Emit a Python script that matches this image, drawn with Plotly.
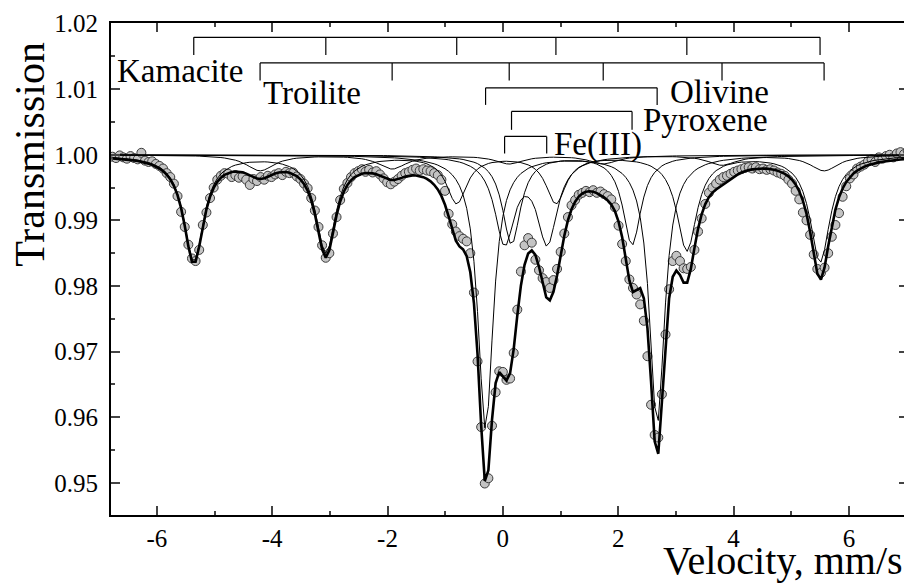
import numpy as np
import plotly.graph_objects as go

# ---------------- data ----------------
# velocity channels (mm/s): first channel, last channel, number of channels
V_MIN, V_MAX, N_CH = -6.77, 7.02, 221

transmission = [
    0.9997, 0.9995, 0.9999, 0.9996, 0.9994, 0.9998, 0.9995, 0.9993, 1.0003, 0.9991,
    0.9989, 0.9990, 0.9986, 0.9983, 0.9979, 0.9972, 0.9966, 0.9956, 0.9937, 0.9913,
    0.9890, 0.9863, 0.9842, 0.9838, 0.9855, 0.9893, 0.9912, 0.9934, 0.9950, 0.9962,
    0.9968, 0.9972, 0.9971, 0.9966, 0.9969, 0.9965, 0.9967, 0.9962, 0.9954, 0.9963,
    0.9960, 0.9966, 0.9962, 0.9968, 0.9966, 0.9970, 0.9972, 0.9969, 0.9974, 0.9972,
    0.9973, 0.9967, 0.9963, 0.9956, 0.9949, 0.9934, 0.9915, 0.9890, 0.9862, 0.9843,
    0.9850, 0.9880, 0.9905, 0.9931, 0.9948, 0.9957, 0.9966, 0.9972, 0.9975, 0.9978,
    0.9974, 0.9977, 0.9973, 0.9975, 0.9970, 0.9964, 0.9958, 0.9955, 0.9959, 0.9963,
    0.9968, 0.9972, 0.9974, 0.9977, 0.9979, 0.9976, 0.9978, 0.9976, 0.9975, 0.9972,
    0.9969, 0.9962, 0.9945, 0.9910, 0.9894, 0.9883, 0.9876, 0.9872, 0.9868, 0.9850,
    0.9790, 0.9685, 0.9585, 0.9499, 0.9507, 0.9587, 0.9638, 0.9670, 0.9669, 0.9657,
    0.9659, 0.9698, 0.9764, 0.9822, 0.9862, 0.9873, 0.9866, 0.9840, 0.9824, 0.9812,
    0.9806, 0.9797, 0.9809, 0.9826, 0.9852, 0.9880, 0.9905, 0.9923, 0.9931, 0.9939,
    0.9942, 0.9945, 0.9943, 0.9946, 0.9942, 0.9944, 0.9940, 0.9937, 0.9932, 0.9920,
    0.9892, 0.9864, 0.9838, 0.9810, 0.9797, 0.9787, 0.9772, 0.9747, 0.9693, 0.9619,
    0.9573, 0.9569, 0.9635, 0.9726, 0.9795, 0.9838, 0.9846, 0.9838, 0.9827, 0.9826,
    0.9829, 0.9855, 0.9883, 0.9903, 0.9925, 0.9942, 0.9950, 0.9956, 0.9962, 0.9966,
    0.9968, 0.9971, 0.9974, 0.9976, 0.9978, 0.9980, 0.9981, 0.9979, 0.9981, 0.9978,
    0.9979, 0.9977, 0.9978, 0.9976, 0.9973, 0.9971, 0.9968, 0.9962, 0.9956, 0.9945,
    0.9932, 0.9912, 0.9900, 0.9878, 0.9848, 0.9826, 0.9820, 0.9828, 0.9850, 0.9875,
    0.9893, 0.9911, 0.9936, 0.9952, 0.9964, 0.9970, 0.9979, 0.9982, 0.9985, 0.9990,
    0.9993, 0.9989, 0.9996, 0.9994, 0.9998, 1.0000, 0.9996, 1.0002, 1.0004, 1.0001,
    1.0006,
]

# fitted sub-spectra: line positions (mm/s), depths, half widths (mm/s)
kam_pos = [-5.36, -3.07, -0.80, 0.92, 3.19, 5.50]
kam_depth = [0.0162, 0.0148, 0.0072, 0.0072, 0.0145, 0.0163]
kam_hw = [0.21, 0.21, 0.21, 0.21, 0.21, 0.21]
tro_pos = [-4.21, -1.92, 0.11, 1.74, 3.80, 5.57]
tro_depth = [0.0024, 0.0021, 0.0013, 0.0013, 0.0015, 0.0024]
tro_hw = [0.30, 0.30, 0.30, 0.30, 0.30, 0.30]
oli_pos = [-0.30, 2.675]
oli_depth = [0.0418, 0.0410]
oli_hw = [0.16, 0.16]
pyr_pos = [0.15, 2.24]
pyr_depth = [0.0136, 0.0137]
pyr_hw = [0.19, 0.19]
fe3_pos = [0.03, 0.77]
fe3_depth = [0.0130, 0.0130]
fe3_hw = [0.21, 0.21]

# stick diagrams: label, line positions, bar level, leg bottom, label position
stick_names = ["Kamacite", "Troilite", "Olivine", "Pyroxene", "Fe(III)"]
stick_pos = [
    [-5.36, -3.07, -0.80, 0.92, 3.19, 5.50],
    [-4.21, -1.92, 0.11, 1.74, 3.80, 5.57],
    [-0.30, 2.675],
    [0.15, 2.24],
    [0.03, 0.76],
]
stick_top = [1.0179, 1.0140, 1.0102, 1.0066, 1.0028]
stick_bottom = [1.0152, 1.0113, 1.0076, 1.0038, 1.0002]
label_x = [-6.72, -4.19, 2.86, 2.39, 0.86]
label_y = [1.0128, 1.0094, 1.0095, 1.0053, 1.0015]

x_ticks = [-6, -4, -2, 0, 2, 4, 6]
x_tick_labels = ["-6", "-4", "-2", "0", "2", "4", "6"]
y_ticks = [0.95, 0.96, 0.97, 0.98, 0.99, 1.00, 1.01, 1.02]

# ---------------- figure ----------------
v = np.linspace(V_MIN, V_MAX, N_CH)


def subspectrum(pos, depth, hw):
    s = np.zeros_like(v)
    for p, d, w in zip(pos, depth, hw):
        s += d / (1 + ((v - p) / w) ** 2)
    return s


comps = [subspectrum(kam_pos, kam_depth, kam_hw), subspectrum(tro_pos, tro_depth, tro_hw),
         subspectrum(oli_pos, oli_depth, oli_hw), subspectrum(pyr_pos, pyr_depth, pyr_hw),
         subspectrum(fe3_pos, fe3_depth, fe3_hw)]
total = 1 - sum(comps)

FONT = "Liberation Serif"
fig = go.Figure()
fig.add_trace(go.Scatter(x=v, y=transmission, mode="markers", hoverinfo="skip",
                         marker=dict(size=9, color="#c4c4c4",
                                     line=dict(color="#3c3c3c", width=1))))
for c in comps:
    fig.add_trace(go.Scatter(x=v, y=1 - c, mode="lines", line=dict(color="black", width=1)))
fig.add_trace(go.Scatter(x=v, y=total, mode="lines", line=dict(color="black", width=2.6)))

for name, pos, top, bot, lx, ly in zip(stick_names, stick_pos, stick_top, stick_bottom,
                                       label_x, label_y):
    xs, ys = [pos[0], pos[-1], None], [top, top, None]
    for p in pos:
        xs += [p, p, None]
        ys += [top, bot, None]
    fig.add_trace(go.Scatter(x=xs, y=ys, mode="lines", line=dict(color="black", width=1.2)))
    fig.add_annotation(x=lx, y=ly, text=name, showarrow=False, xanchor="left", yanchor="middle",
                       font=dict(family=FONT, size=33, color="black"))

fig.add_annotation(xref="paper", yref="paper", x=-0.101, y=0.733, text="Transmission",
                   textangle=-90, showarrow=False, xanchor="center", yanchor="middle",
                   font=dict(family=FONT, size=42, color="black"))
fig.add_annotation(xref="paper", yref="paper", x=0.996, y=-0.142, text="Velocity, mm/s",
                   showarrow=False, xanchor="right", yanchor="bottom",
                   font=dict(family=FONT, size=40, color="black"))

# page has an 8 px body margin, so the figure is 904 x 575
fig.update_layout(width=904, height=575, margin=dict(l=103, r=2, t=12, b=68),
                  paper_bgcolor="white", plot_bgcolor="white", showlegend=False,
                  font=dict(family=FONT, color="black"))
fig.update_xaxes(range=[-6.795, 7.025], tickvals=x_ticks, ticktext=x_tick_labels,
                 ticks="inside", ticklen=9, tickwidth=1.5, mirror="ticks", showline=True,
                 linecolor="black", linewidth=2, showgrid=False, zeroline=False,
                 tickfont=dict(size=25), ticklabelstandoff=0, ticklabeloverflow="allow",
                 minor=dict(dtick=1, ticks="inside", ticklen=4, tickwidth=1.5))
fig.update_yaxes(range=[0.9451, 1.02008], tickvals=y_ticks, tickformat=".2f", ticks="inside",
                 ticklen=9, tickwidth=1.5, mirror="ticks", showline=True, linecolor="black",
                 linewidth=2, showgrid=False, zeroline=False, tickfont=dict(size=25),
                 ticklabelstandoff=6, ticklabeloverflow="allow",
                 minor=dict(dtick=0.005, ticks="inside", ticklen=4, tickwidth=1.5))
fig.write_html("out.html")
